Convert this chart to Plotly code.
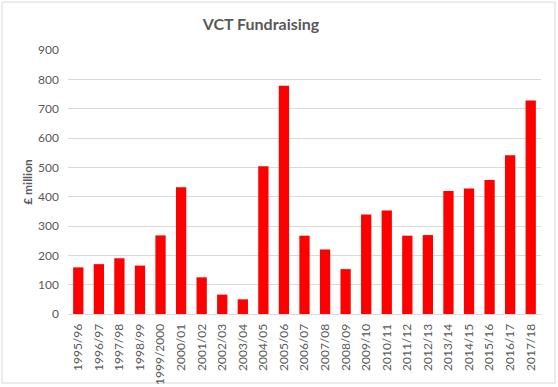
import plotly.graph_objects as go

years = ["1995/96", "1996/97", "1997/98", "1998/99", "1999/2000", "2000/01", "2001/02",
         "2002/03", "2003/04", "2004/05", "2005/06", "2006/07", "2007/08", "2008/09",
         "2009/10", "2010/11", "2011/12", "2012/13", "2013/14", "2014/15", "2015/16",
         "2016/17", "2017/18"]
funds = [159, 170, 190, 165, 268, 432, 125, 66, 50, 504, 778, 267, 220, 153,
         339, 353, 267, 269, 419, 428, 457, 541, 728]
y_ticks = [0, 100, 200, 300, 400, 500, 600, 700, 800, 900]

fig = go.Figure(go.Bar(x=years, y=funds, marker=dict(color="#FF0000", line=dict(width=0))))

W, H = 558, 387
L, R, T, B = 68, 17, 50, 73
pw, ph = W - L - R, H - T - B

def px_x(p):
    return (p - L) / pw

def px_y(p):
    return (H - B - p) / ph

FONT = "Lato, Open Sans, Liberation Sans, sans-serif"

fig.update_layout(
    width=W, height=H,
    margin=dict(l=L, r=R, t=T, b=B, autoexpand=False),
    paper_bgcolor="white", plot_bgcolor="white",
    bargap=0.5,
    showlegend=False,
    font=dict(family=FONT, color="#595959", size=12),
    title=dict(text="VCT Fundraising", x=261 / W, xanchor="center", y=1 - 24 / H, yanchor="middle",
               font=dict(size=16, color="#595959", family=FONT, weight="bold")),
    xaxis=dict(type="category", tickangle=-90, showgrid=False, showline=True, linecolor="#D9D9D9",
               ticks="", ticklabelstandoff=4, tickfont=dict(size=12, color="#595959")),
    yaxis=dict(range=[0, 900], tickvals=y_ticks, showgrid=True, gridcolor="#D9D9D9", zeroline=False,
               showline=False, ticks="", ticklabelstandoff=8, tickfont=dict(size=12, color="#595959"),
               title=dict(text="£ million", font=dict(size=12, color="#595959", weight="bold"), standoff=2)),
    shapes=[dict(type="rect", xref="paper", yref="paper",
                 x0=px_x(2), x1=px_x(555), y0=px_y(383), y1=px_y(2),
                 line=dict(color="#D9D9D9", width=1), fillcolor="rgba(0,0,0,0)", layer="below")],
)

fig.write_html("out.html", config={"displayModeBar": False},
               post_script="document.body.style.margin='0px';")
